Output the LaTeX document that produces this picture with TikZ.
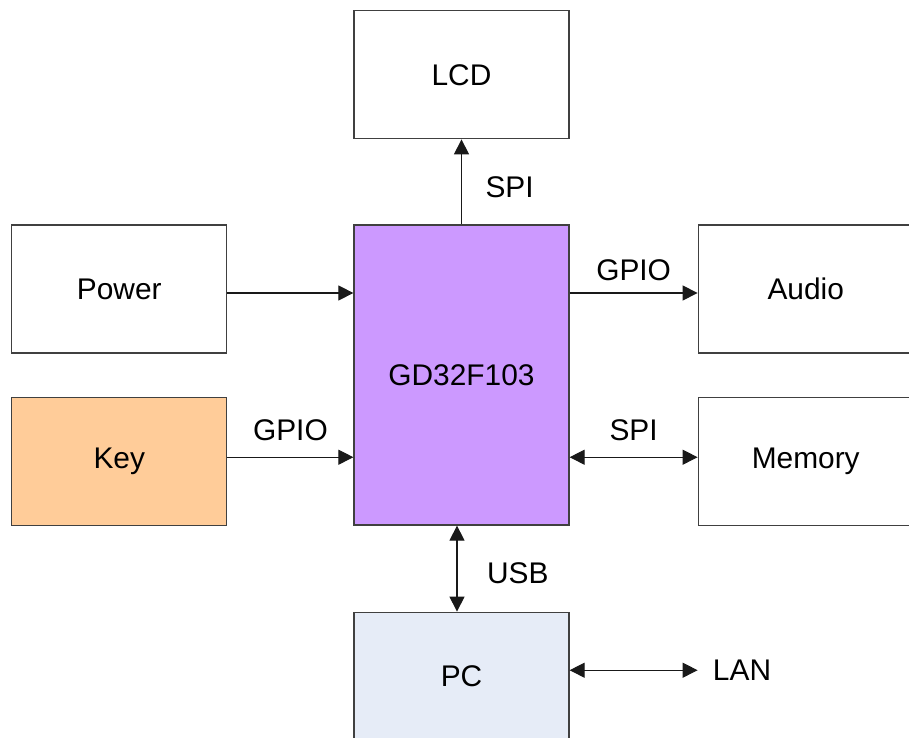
\documentclass[tikz,border=0pt]{standalone}
\usepackage{fontspec}
\setmainfont{Liberation Sans}
\usetikzlibrary{positioning,arrows.meta}
\definecolor{mcupurple}{HTML}{CC99FF}
\definecolor{keyorange}{HTML}{FFCC99}
\definecolor{pcblue}{HTML}{E6ECF7}
\tikzset{
  block/.style={draw=black!75, line width=0.7pt, minimum width=4.3cm, minimum height=2.56cm, inner sep=0pt, font=\fontsize{17}{20}\selectfont},
  link/.style={line width=0.6pt, draw=black!90, -{Triangle[length=0.3cm,width=0.3cm]}},
  duplex/.style={line width=0.6pt, draw=black!90, {Triangle[length=0.3cm,width=0.3cm]}-{Triangle[length=0.3cm,width=0.3cm]}},
  tag/.style={font=\fontsize{17}{20}\selectfont, inner sep=2pt}
}
\begin{document}
\begin{tikzpicture}
    \useasboundingbox (0,0) rectangle (18.18,-14.76);
    \node (gd) [block, fill=mcupurple, minimum height=6cm] at (9.23,-7.5) {GD32F103};
    \node (lcd) [block, above=1.70cm of gd] {LCD};
    \node (power) [block, left=2.52cm of gd.north west, anchor=north east] {Power};
    \node (key) [block, fill=keyorange, below=0.86cm of power] {Key};
    \node (audio) [block, right=2.56cm of gd.north east, anchor=north west] {Audio};
    \node (memory) [block, below=0.86cm of audio] {Memory};
    \node (pc) [block, fill=pcblue, below=1.72cm of gd] {PC};
    \node (lan) [tag, right=2.56cm of pc.east, anchor=west, inner sep=0pt, xshift=0.3cm, yshift=0.12cm] {LAN};
    % connections
    \draw[link] (gd) -- node[tag, right, xshift=0.4cm, yshift=-0.1cm] {SPI} (lcd);
    \draw[link] ([yshift=-0.08cm]power.east) -- ([yshift=-0.08cm]power.east -| gd.west);
    \draw[link] ([yshift=0.08cm]key.east) -- node[tag, above, yshift=0.24cm] {GPIO} ([yshift=0.08cm]key.east -| gd.west);
    \draw[link] ([yshift=-0.08cm]audio.west -| gd.east) -- node[tag, above, yshift=0.16cm] {GPIO} ([yshift=-0.08cm]audio.west);
    \draw[duplex] ([yshift=0.08cm]memory.west -| gd.east) -- node[tag, above, yshift=0.24cm] {SPI} ([yshift=0.08cm]memory.west);
    \draw[duplex] ([xshift=-0.09cm]gd.south) -- node[tag, right, xshift=0.52cm, yshift=-0.1cm] {USB} ([xshift=-0.09cm]pc.north);
    \draw[duplex] (lan.west -| pc.east) -- ([xshift=-0.3cm]lan.west);
\end{tikzpicture}
\end{document}
